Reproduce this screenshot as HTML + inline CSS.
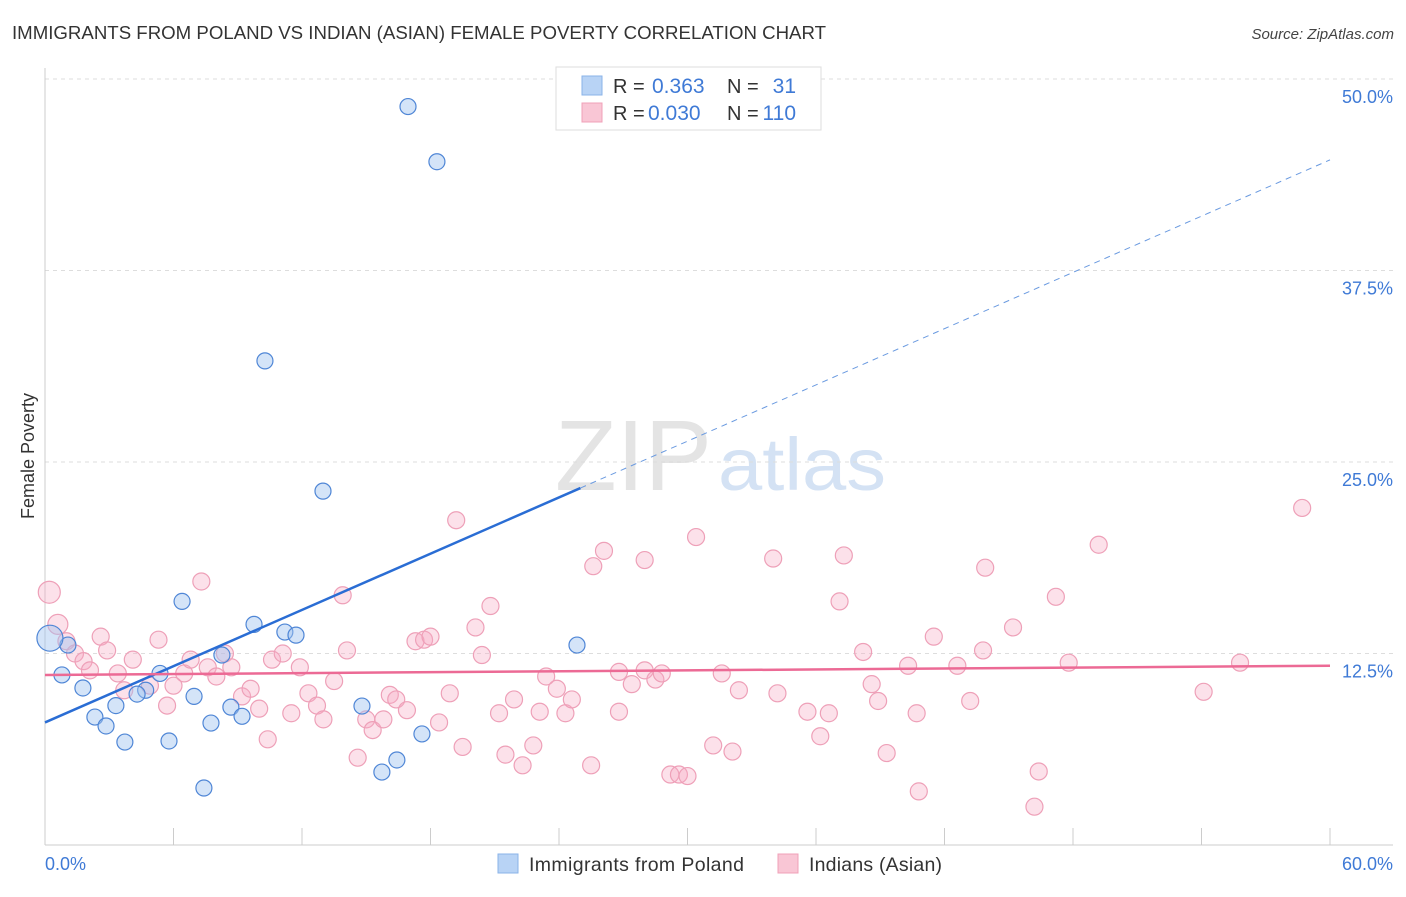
<!DOCTYPE html>
<html><head><meta charset="utf-8"><style>
body{margin:0;background:#fff;font-family:"Liberation Sans",sans-serif;}
svg text{font-family:"Liberation Sans",sans-serif;}
</style></head><body>
<svg id="chart" width="1406" height="892" xmlns="http://www.w3.org/2000/svg">
<text x="12" y="39" font-size="18" fill="#333" textLength="814" lengthAdjust="spacingAndGlyphs">IMMIGRANTS FROM POLAND VS INDIAN (ASIAN) FEMALE POVERTY CORRELATION CHART</text>
<text x="1394" y="39" font-size="15" fill="#444" text-anchor="end" font-style="italic">Source: ZipAtlas.com</text>
<text transform="translate(34,456) rotate(-90)" font-size="18" fill="#333" text-anchor="middle">Female Poverty</text>
<text x="555" y="490" font-size="100" fill="#e4e4e4" font-family="Liberation Serif" textLength="157" lengthAdjust="spacingAndGlyphs">ZIP</text>
<text x="718" y="490" font-size="74" fill="#d4e2f4" textLength="168" lengthAdjust="spacingAndGlyphs">atlas</text>
<g id="grid"></g><g id="axes"></g><g id="marks"></g>
<g>
<rect x="556" y="67" width="265" height="63" fill="#fff" stroke="#ddd"/>
<rect x="582" y="76" width="20" height="19" fill="#b8d3f5" stroke="#8ab3e8"/>
<rect x="582" y="103" width="20" height="19" fill="#f9c6d5" stroke="#f0a0b8"/>
<text x="613" y="93" font-size="20" fill="#333">R = </text><text x="652" y="93" font-size="21" fill="#3f7ad6">0.363</text>
<text x="727" y="93" font-size="20" fill="#333">N = </text><text x="796" y="93" font-size="21" fill="#3f7ad6" text-anchor="end">31</text>
<text x="613" y="120" font-size="20" fill="#333">R = </text><text x="648" y="120" font-size="21" fill="#3f7ad6">0.030</text>
<text x="727" y="120" font-size="20" fill="#333">N = </text><text x="796" y="120" font-size="21" fill="#3f7ad6" text-anchor="end">110</text>
</g>
<g>
<rect x="498" y="854" width="20" height="19" fill="#b8d3f5" stroke="#8ab3e8"/>
<text x="529" y="871" font-size="19.5" fill="#333" textLength="215">Immigrants from Poland</text>
<rect x="778" y="854" width="20" height="19" fill="#f9c6d5" stroke="#f0a0b8"/>
<text x="809" y="871" font-size="19.5" fill="#333" textLength="133">Indians (Asian)</text>
</g>
</svg>
<script>
const yTicks=[12.5,25,37.5,50];
const yTickLabels=["12.5%","25.0%","37.5%","50.0%"];
const xTickVals=[0,6,12,18,24,30,36,42,48,54,60];
const xEndLabels=["0.0%","60.0%"];
const polandX=[16.95,18.3,10.27,12.98,6.4,9.76,11.2,11.72,24.84,1.07,0.23,0.79,1.77,5.37,4.7,4.3,6.96,8.26,3.31,2.33,2.85,3.73,5.79,7.75,8.68,9.2,7.42,14.8,17.6,15.73,16.43];
const polandY=[48.2,44.6,31.6,23.1,15.9,14.4,13.9,13.7,13.05,13.05,13.5,11.1,10.25,11.2,10.1,9.85,9.7,12.4,9.1,8.35,7.77,6.72,6.79,7.96,9.0,8.4,3.72,9.07,7.25,4.76,5.55];
const indianX=[0.2,0.6,1.0,1.4,1.8,2.1,2.6,2.9,3.4,3.7,4.1,4.9,5.3,5.7,6.0,6.5,6.8,7.3,7.6,8.0,8.4,8.7,9.2,9.6,10.0,10.4,10.6,11.1,11.5,11.9,12.3,12.7,13.0,13.5,13.9,14.1,14.6,15.0,15.3,15.8,16.1,16.4,16.9,17.3,17.7,18.0,18.4,18.9,19.2,19.5,20.1,20.4,20.8,21.2,21.5,21.9,22.3,22.8,23.1,23.4,23.9,24.3,24.6,25.5,25.6,26.1,26.8,26.8,27.4,28.0,28.0,28.5,28.8,29.2,29.6,30.0,30.4,31.2,31.6,32.1,32.4,34.0,34.2,35.6,36.2,36.6,37.1,37.3,38.2,38.6,38.9,39.3,40.3,40.7,40.8,41.5,42.6,43.2,43.9,43.8,45.2,46.2,46.4,47.2,47.8,49.2,54.1,55.8,58.7];
const indianY=[16.5,14.4,13.3,12.5,12.0,11.4,13.6,12.7,11.2,10.1,12.1,10.4,13.4,9.1,10.4,11.2,12.1,17.2,11.6,11.0,12.5,11.6,9.7,10.2,8.9,6.9,12.1,12.5,8.6,11.6,9.9,9.1,8.2,10.7,16.3,12.7,5.7,8.2,7.5,8.2,9.8,9.5,8.8,13.3,13.4,13.6,8.0,9.9,21.2,6.4,14.2,12.4,15.6,8.6,5.9,9.5,5.2,6.5,8.7,11.0,10.2,8.6,9.5,5.2,18.2,19.2,8.7,11.3,10.5,18.6,11.4,10.8,11.2,4.6,4.6,4.5,20.1,6.5,11.2,6.1,10.1,18.7,9.9,8.7,7.1,8.6,15.9,18.9,12.6,10.5,9.4,6.0,11.7,8.6,3.5,13.6,11.7,9.4,18.1,12.7,14.2,2.5,4.8,16.2,11.9,19.6,10.0,11.9,22.0];
const polandFit=[8.0,0.612];
const indianFit=[11.1,0.01];
const X0=45,X1=1330,Y0=845,Y1=79;
const sx=v=>X0+(v-0)/60*(X1-X0);
const sy=v=>Y0-v/50*(Y0-Y1);
const NS="http://www.w3.org/2000/svg";
function mk(tag,attrs,parent){const e=document.createElementNS(NS,tag);for(const k in attrs)e.setAttribute(k,attrs[k]);parent.appendChild(e);return e;}
const grid=document.getElementById('grid'),axes=document.getElementById('axes'),marks=document.getElementById('marks');
yTicks.forEach((t,i)=>{
 const l=mk('line',{x1:X0,x2:1393,y1:sy(t),y2:sy(t),stroke:'#ddd','stroke-dasharray':'4,4'},grid);
 
 
 const tx=mk('text',{x:1393,y:sy(t)+24,'font-size':18,fill:'#3f7ad6','text-anchor':'end'},axes);
 tx.textContent=yTickLabels[i];
 
 
});
let a=mk('line',{x1:X0,x2:X0,y1:68,y2:Y0,stroke:'#ccc'},axes);


a=mk('line',{x1:X0,x2:1393,y1:Y0,y2:Y0,stroke:'#ccc'},axes);


xTickVals.forEach(t=>{
 const l=mk('line',{x1:sx(t),x2:sx(t),y1:828,y2:Y0,stroke:'#ccc'},axes);
 
 
});
[[0,'start',45],[60,'end',1393]].forEach((p,i)=>{
 const tx=mk('text',{x:p[2],y:870,'font-size':18,fill:'#3f7ad6','text-anchor':p[1]},axes);
 tx.textContent=xEndLabels[i];
 
 
});
indianX.forEach((x,i)=>{
 const r=i===0?11:(i===1?10:8.5);
 const c=mk('circle',{cx:sx(x),cy:sy(indianY[i]),r:r,fill:'rgba(246,170,195,0.35)',stroke:'#eea0b8','stroke-width':1.2},marks);
 
 
});
polandX.forEach((x,i)=>{
 const r=i===10?13:8;
 const c=mk('circle',{cx:sx(x),cy:sy(polandY[i]),r:r,fill:'rgba(160,195,240,0.45)',stroke:'#4f86d6','stroke-width':1.2},marks);
 
 
});
let ln=mk('line',{x1:sx(0),y1:sy(polandFit[0]),x2:sx(25),y2:sy(polandFit[0]+polandFit[1]*25),stroke:'#2a6dd4','stroke-width':2.5},marks);


ln=mk('line',{x1:sx(25),y1:sy(polandFit[0]+polandFit[1]*25),x2:sx(60),y2:sy(polandFit[0]+polandFit[1]*60),stroke:'#6a9ae0','stroke-width':1,'stroke-dasharray':'6,5'},marks);


ln=mk('line',{x1:sx(0),y1:sy(indianFit[0]),x2:sx(60),y2:sy(indianFit[0]+indianFit[1]*60),stroke:'#ec6a95','stroke-width':2.5},marks);


</script>
</body></html>
